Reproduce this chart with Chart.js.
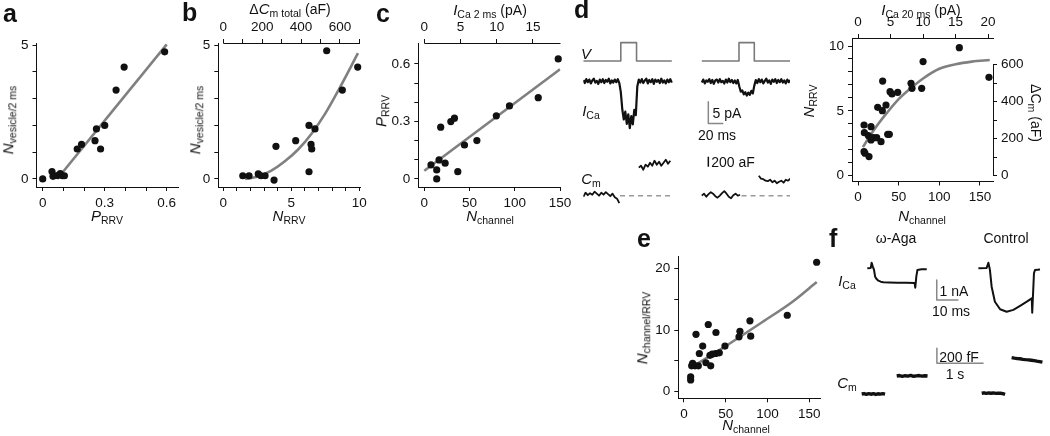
<!DOCTYPE html>
<html><head><meta charset="utf-8">
<script src="https://cdn.jsdelivr.net/npm/chart.js@4"></script>
<style>
html,body{margin:0;padding:0;background:#fff;}
#wrap{position:relative;width:1050px;height:436px;overflow:hidden;font-family:'Liberation Sans',Arial,sans-serif;color:#111;}
canvas{position:absolute;left:0;top:0;}
.t{position:absolute;white-space:nowrap;line-height:1;transform:translate(-50%,-50%);font-size:14px;z-index:5;}
.t.r{transform:translate(-50%,-50%) rotate(-90deg);}
.t.rr{transform:translate(-50%,-50%) rotate(90deg);}
.t i{font-style:italic;font-size:15px;}
.t sub{font-size:10.5px;vertical-align:-3px;font-style:normal;line-height:1;}
.lab{position:absolute;font-weight:bold;font-size:25px;line-height:1;z-index:5;}
</style></head>
<body><div id="wrap"></div>
<script>
// ---------------- DATA ----------------
// panel a: P_RRV vs N_vesicle/2ms
const aX = [0, 0.045, 0.05, 0.07, 0.085, 0.095, 0.105, 0.167, 0.188, 0.253, 0.26, 0.28, 0.30, 0.355, 0.394, 0.59];
const aY = [0, 0.28, 0.10, 0.13, 0.20, 0.12, 0.12, 1.12, 1.29, 1.43, 1.87, 1.12, 2.0, 3.32, 4.18, 4.75];
const aFitX = [0.07, 0.6];
const aFitY = [0, 5.03];
// panel b: N_RRV vs N_vesicle/2ms
const bX = [1.43, 1.89, 2.57, 2.77, 3.07, 3.73, 3.87, 5.32, 6.3, 6.3, 6.45, 6.5, 6.74, 7.6, 8.75, 9.88];
const bY = [0.12, 0.12, 0.19, 0.12, 0.12, -0.04, 1.22, 1.43, 2.0, 0.27, 1.29, 1.12, 1.87, 4.79, 3.32, 4.18];
const bFitX = [1.6, 2.5, 3.5, 4.5, 5.5, 6.5, 7.5, 8.5, 9.9];
const bFitY = [0, 0.08, 0.3, 0.65, 1.1, 1.7, 2.45, 3.35, 4.7];
// panel c: N_channel vs P_RRV
const cX = [148, 125.9, 94.1, 79.6, 58.1, 44.4, 37, 33.3, 29.3, 18.1, 23, 16.3, 13.7, 13.7, 7.4];
const cY = [0.626, 0.424, 0.381, 0.329, 0.2, 0.177, 0.038, 0.317, 0.299, 0.27, 0.082, 0.099, 0.047, 0, 0.073];
const cFitX = [0, 150];
const cFitY = [0.043, 0.572];
// panel d scatter: N_channel vs N_RRV
const dN = [124.6, 161, 80, 65.2, 66.4, 78.3, 30.3, 39.4, 41.8, 48.8, 34.4, 24.2, 29.9, 7.4, 7.8, 16, 12.7, 18.9, 23, 16, 28.3, 36.5, 38.5, 7.4, 8.6, 13.5];
const dR = [9.87, 7.59, 8.8, 7.12, 6.74, 6.74, 7.3, 6.48, 6.3, 6.43, 5.45, 5.27, 5.01, 3.91, 3.32, 3.78, 3.09, 2.93, 2.93, 2.75, 2.62, 3.19, 3.19, 1.85, 1.73, 1.47];
const dFitN = [6, 15, 25, 35, 50, 65, 80, 100, 120, 140, 162];
const dFitR = [2.2, 3.1, 4.0, 4.8, 5.9, 6.75, 7.5, 8.25, 8.6, 8.8, 8.92];
// panel e: N_channel vs N_channel/RRV
const eN = [158.9, 123.7, 79, 79.9, 67, 65.9, 49.1, 42.3, 37.9, 38.3, 29.1, 33.9, 31.1, 32, 26.3, 22.4, 18.4, 14.4, 17.2, 13.2, 10.4, 9.2, 8, 8];
const eY = [21, 12.4, 11.5, 9.0, 9.8, 8.9, 7.4, 6.3, 6.2, 9.6, 10.9, 6.1, 5.9, 4.2, 4.7, 7.4, 6.2, 9.3, 4.2, 4.2, 4.6, 4.2, 2.4, 1.9];
const eFitN = [13, 50, 95, 130, 159];
const eFitY = [4.3, 7.4, 11.4, 14.6, 17.8];

// panel d traces (time in ms, current in pA, capacitance in aF)
const vStepT1 = [0, 50, 50, 71, 71, 118];
const vStepT2 = [158, 207.6, 207.6, 228, 228, 276];
const vStepV  = [0, 0, 1, 1, 0, 0];
const icaLeft = {t0: 0, dt: 2, v: [0.3,-0.4,0.5,-0.2,0.4,-0.5,0.2,0.6,-0.3,0.1,-0.6,0.4,-0.2,0.5,-0.4,0.3,-0.1,0.6,-0.5,0.2,-0.3,0.4,-0.2,0.5,-0.4,
  -2.5,-6.5,-8.8,-7.0,-9.8,-7.6,-10.8,-8.0,-9.9,-6.6,-7.8,-1.2,
  0.4,-0.3,0.5,-0.4,0.2,0.6,-0.5,0.3,-0.2,0.5,-0.6,0.4,-0.1,0.3,-0.4,0.6,-0.3,0.2,-0.5,0.4,-0.2,0.5,-0.3]};
const icaRight = {t0: 158, dt: 2, v: [-0.3,0.4,-0.5,0.2,-0.1,0.5,-0.4,0.3,-0.6,0.2,0.4,-0.3,0.5,-0.2,0.1,-0.5,0.4,-0.3,0.6,-0.2,0.3,-0.4,0.2,-0.5,0.3,
  -1.2,-2.4,-2.1,-3.0,-2.5,-3.3,-2.6,-3.1,-2.2,-2.8,-1.0,
  0.3,-0.4,0.5,-0.2,0.4,-0.5,0.1,0.6,-0.3,0.2,-0.6,0.4,-0.1,0.5,-0.4,0.3,-0.2,0.5,-0.3,0.2,-0.5,0.4,-0.2,0.3]};
const cmLeftPre  = {t0: 0,   dt: 3, v: [-20,60,10,50,20,80,40,0,60,20,70,30,-10,40,-30,-60,-150]};
const cmLeftPost = {t0: 74,  dt: 3, v: [560,600,520,620,580,660,600,700,620,680,600,660,720,640,700]};
const cmRightPre = {t0: 158, dt: 3, v: [0,40,-20,30,70,40,-10,-40,0,50,90,40,-20,-50,10,40,0,20]};
const cmRightPost= {t0: 234, dt: 3, v: [400,340,330,300,290,320,270,300,250,280,300,260,320,300,340]};
const cmDashT1 = [49, 117], cmDashT2 = [211, 276], cmDashV = [0, 0];
const dBarIT = [166.7, 166.7, 186.7], dBarIV = [-4.7, -9.7, -9.7];   // 5 pA / 20 ms
const dBarCT = [166.7, 166.7], dBarCV = [580, 780];                  // 200 aF

// panel f traces (ms / nA ; s / fF)
const fAgaT = [0,1.6,2.0,2.5,3.1,3.6,4.3,5.1,6.2,7.4,10,14,18,21.8,22.1,22.6,23.1,25,27.4];
const fAgaI = [0,0.02,0.28,0.1,-0.08,-0.42,-0.54,-0.62,-0.67,-0.7,-0.71,-0.72,-0.72,-0.73,-0.97,-0.4,-0.08,-0.05,-0.05];
const fCtlT = [51.2,55.0,55.8,56.5,57.3,58.8,61.2,64.2,67.3,70.4,73.5,75.8,76.0,76.8,77.3,79.6];
const fCtlI = [0,0.02,0.28,-0.08,-0.92,-1.67,-2.05,-2.17,-2.08,-1.88,-1.67,-1.5,-2.22,-0.25,-0.08,-0.06];
const fCmAgaPre  = {t0: 0,    dt: 0.05, v: [0,6,-4,5,-3,4,-6,3,-2,5,-1]};
const fCmAgaPost = {t0: 0.75, dt: 0.06, v: [240,246,236,244,238,248,236,242,246,238,244,240]};
const fCmCtlPre  = {t0: 2.57, dt: 0.05, v: [10,16,8,14,10,14,8,12,10,4,-6]};
const fCmCtlPost = {t0: 3.21, dt: 0.06, v: [485,478,472,470,462,458,455,450,445,438,432,425]};
const fBarIT = [32, 32, 42], fBarIV = [-0.585, -1.585, -1.585];     // 1 nA / 10 ms
const fBarCT = [1.61, 1.61, 2.61], fBarCV = [609, 409, 409];        // 200 fF / 1 s

// tick values and labels
const aXT = [0,0.1,0.2,0.3,0.4,0.5,0.6], aXL = [0,0.3,0.6];
const nvT = [0,1,2,3,4,5], nvL = [0,5];
const bXT = [0,1,2,3,4,5,6,7,8,9,10], bXL = [0,5,10];
const bTopT = [0,100,200,300,400,500,600,700], bTopL = [0,200,400,600];
const chT = [0,50,100,150], chL = [0,50,100,150];
const cYT = [0,0.1,0.2,0.3,0.4,0.5,0.6], cYL = [0,0.3,0.6];
const cTopT = [0,5,10,15], cTopL = [0,5,10,15];
const dYT = [0,1,2,3,4,5,6,7,8,9,10], dYL = [0,5,10];
const dY2T = [0,100,200,300,400,500,600], dY2L = [0,200,400,600];
const dTopT = [0,5,10,15,20], dTopL = [0,5,10,15,20];
const eYT = [0,5,10,15,20], eYL = [0,10,20];

// ---------------- RENDER ----------------
Chart.defaults.font.family = "'Liberation Sans', Arial, sans-serif";
Chart.defaults.font.size = 13.5;
Chart.defaults.color = '#111';
Chart.defaults.animation = false;
Chart.defaults.plugins.legend.display = false;
Chart.defaults.plugins.tooltip.enabled = false;

const wrap = document.getElementById('wrap');
function mk(){ const c=document.createElement('canvas'); c.width=1050; c.height=436; c.style.width='1050px'; c.style.height='436px'; wrap.appendChild(c); return c; }
const xy = (xs, ys) => xs.map((x,i)=>({x, y: ys[i]}));
const ser = s => s.v.map((v,i)=>({x: s.t0 + i*s.dt, y: v}));

function ax(pos, min, max, ticks, labels, partial){
  const horiz = pos==='top'||pos==='bottom';
  return {
    type:'linear', position:pos, min, max, bounds:'data',
    grid:{drawOnChartArea:false, drawTicks:true, tickLength:4, color:'#111', lineWidth:1},
    border:{display:!partial, color:'#111', width:1},
    ticks:{padding:4, autoSkip:false, maxRotation:0, minRotation:0, color:'#111', font:{size:13.5},
      callback:v => labels.indexOf(v)>=0 ? String(v) : ''},
    afterBuildTicks:s => { s.ticks = ticks.map(v=>({value:v})); },
    afterFit:s => { if(horiz) s.height=30; else s.width=30; }
  };
}
function partialPlugin(ranges){
  return {id:'partialBorder', afterDraw(chart){
    const ctx = chart.ctx;
    for (const id in ranges){
      const s = chart.scales[id], r = ranges[id];
      ctx.save(); ctx.strokeStyle='#111'; ctx.lineWidth=1; ctx.beginPath();
      if (s.isHorizontal()){
        const y = Math.round(s.position==='top' ? s.bottom : s.top) + 0.5;
        ctx.moveTo(s.getPixelForValue(r[0]), y); ctx.lineTo(s.getPixelForValue(r[1]), y);
      } else {
        const x = Math.round(s.position==='left' ? s.right : s.left) + 0.5;
        ctx.moveTo(x, s.getPixelForValue(r[0])); ctx.lineTo(x, s.getPixelForValue(r[1]));
      }
      ctx.stroke(); ctx.restore();
    }
  }};
}
const ptsDS = d => ({data:d, showLine:false, pointRadius:3.6, pointBackgroundColor:'#111', pointBorderWidth:0, order:1, clip:8});
const fitDS = d => ({data:d, showLine:true, pointRadius:0, borderColor:'#808080', borderWidth:2.6, cubicInterpolationMode:'monotone', order:2});

function scatterPanel(o){
  new Chart(mk(), {type:'scatter', data:{datasets:o.datasets}, options:{
    responsive:false, animation:false, devicePixelRatio:1, events:[],
    layout:{padding:{left:o.L-30, right:1050-o.R-(o.right?30:0), top:o.T-(o.top?30:0), bottom:436-o.B-30}},
    scales:o.scales
  }, plugins: o.partial ? [partialPlugin(o.partial)] : []});
}
function hid(min,max){ return {type:'linear', display:false, min, max}; }
const lineDS = (d, xA, yA, color, w, dash) => ({data:d, xAxisID:xA, yAxisID:yA, showLine:true, pointRadius:0, borderColor:color, borderWidth:w, borderDash:dash||[], tension:0, borderJoinStyle:'round', borderCapStyle:'butt'});
function tracePanel(o){
  new Chart(mk(), {type:'scatter', data:{datasets:o.datasets}, options:{
    responsive:false, animation:false, devicePixelRatio:1, events:[],
    layout:{padding:{left:o.L, right:1050-o.R, top:o.T, bottom:436-o.B}},
    scales:o.scales
  }});
}

// panel a
scatterPanel({L:36.5, R:178, T:43, B:187,
  scales:{x:ax('bottom',-0.03,0.6546,aXT,aXL), y:ax('left',-0.3,5.08,nvT,nvL)},
  datasets:[ptsDS(xy(aX,aY)), fitDS(xy(aFitX,aFitY))]});
// panel b
scatterPanel({L:218.3, R:360, T:43, B:187, top:true,
  scales:{x:ax('bottom',-0.37,10.05,bXT,bXL), x2:ax('top',-25.9,703.5,bTopT,bTopL,true), y:ax('left',-0.3,5.08,nvT,nvL)},
  partial:{x2:[0,703.5]},
  datasets:[ptsDS(xy(bX,bY)), fitDS(xy(bFitX,bFitY))]});
// panel c
scatterPanel({L:418.3, R:560.5, T:43, B:187, top:true,
  scales:{x:ax('bottom',-6.63,150.5,chT,chL), x2:ax('top',-0.829,18.81,cTopT,cTopL,true), y:ax('left',-0.042,0.709,cYT,cYL)},
  partial:{x2:[0,18.81]},
  datasets:[ptsDS(xy(cX,cY)), fitDS(xy(cFitX,cFitY))]});
// panel d scatter
scatterPanel({L:852, R:993, T:38, B:181.5, top:true, right:true,
  scales:{x:ax('bottom',-7.4,166,chT,chL), x2:ax('top',-0.925,20.75,dTopT,dTopL), y:ax('left',-0.45,10.62,dYT,dYL), y2:ax('right',-31.5,743.4,dY2T,dY2L,true)},
  partial:{y2:[0,600]},
  datasets:[ptsDS(xy(dN,dR)), fitDS(xy(dFitN,dFitR))]});
// panel e
scatterPanel({L:678.3, R:820, T:256.7, B:398.3,
  scales:{x:ax('bottom',-6.8,162.9,chT,chL), y:ax('left',-1.07,21.9,eYT,eYL)},
  datasets:[ptsDS(xy(eN,eY)), fitDS(xy(eFitN,eFitY))]});

// panel d traces
tracePanel({L:583.3, R:790, T:30, B:210,
  scales:{x:hid(0,275.6), yV:hid(-8.14,1.69), yI:hid(-29.65,11.82), yC:hid(-286,3314)},
  datasets:[
    lineDS(xy(vStepT1,vStepV),'x','yV','#7a7a7a',1.6),
    lineDS(xy(vStepT2,vStepV),'x','yV','#7a7a7a',1.6),
    lineDS(ser(icaLeft),'x','yI','#111',2.2),
    lineDS(ser(icaRight),'x','yI','#111',2.2),
    lineDS(xy(cmDashT1,cmDashV),'x','yC','#999',1.5,[5,4]),
    lineDS(xy(cmDashT2,cmDashV),'x','yC','#999',1.5,[5,4]),
    lineDS(ser(cmLeftPre),'x','yC','#111',1.8),
    lineDS(ser(cmLeftPost),'x','yC','#111',1.8),
    lineDS(ser(cmRightPre),'x','yC','#111',1.8),
    lineDS(ser(cmRightPost),'x','yC','#111',1.8),
    lineDS(xy(dBarIT,dBarIV),'x','yI','#888',1.5),
    lineDS(xy(dBarCT,dBarCV),'x','yC','#111',1.5)
  ]});
// panel f traces
tracePanel({L:855, R:1050, T:250, B:410,
  scales:{xI:hid(-5.67,84.19), xC:hid(-0.1435,4.032), yI:hid(-7.085,0.915), yC:hid(-213.3,1920)},
  datasets:[
    lineDS(xy(fAgaT,fAgaI),'xI','yI','#111',2),
    lineDS(xy(fCtlT,fCtlI),'xI','yI','#111',2),
    lineDS(xy(fBarIT,fBarIV),'xI','yI','#888',1.5),
    lineDS(ser(fCmAgaPre),'xC','yC','#111',3.4),
    lineDS(ser(fCmAgaPost),'xC','yC','#111',3.4),
    lineDS(ser(fCmCtlPre),'xC','yC','#111',3.4),
    lineDS(ser(fCmCtlPost),'xC','yC','#111',3.4),
    lineDS(xy(fBarCT,fBarCV),'xC','yC','#888',1.5)
  ]});

// ---------------- TEXT ----------------
function txt(html, x, y, cls, size){
  const d=document.createElement('div'); d.className='t'+(cls?' '+cls:''); d.innerHTML=html;
  d.style.left=x+'px'; d.style.top=y+'px'; if(size) d.style.fontSize=size+'px'; wrap.appendChild(d);
}
function lab(s, x, y){ const d=document.createElement('div'); d.className='lab'; d.textContent=s; d.style.left=x+'px'; d.style.top=y+'px'; wrap.appendChild(d); }
lab('a',3,1); lab('b',182,0); lab('c',376,1); lab('d',574,-3); lab('e',637,226); lab('f',829,226);
// a
txt('<i>N</i><sub>vesicle/2 ms</sub>', 9, 120, 'r');
txt('<i>P</i><sub>RRV</sub>', 107, 217);
// b
txt('<i>N</i><sub>vesicle/2 ms</sub>', 196, 120, 'r');
txt('<i>N</i><sub>RRV</sub>', 289, 217);
txt('Δ<i>C</i><sub>m total</sub> (aF)', 290, 10);
// c
txt('<i>P</i><sub>RRV</sub>', 382, 111, 'r');
txt('<i>N</i><sub>channel</sub>', 490, 217);
txt('<i>I</i><sub>Ca 2 ms</sub> (pA)', 490, 11);
// d traces
txt('<i>V</i>', 586, 53);
txt('<i>I</i><sub>Ca</sub>', 591, 112);
txt('<i>C</i><sub>m</sub>', 591, 180);
txt('5 pA', 727, 113);
txt('20 ms', 717, 135);
txt('200 aF', 733, 162);
// d scatter
txt('<i>I</i><sub>Ca 20 ms</sub> (pA)', 921, 11);
txt('<i>N</i><sub>RRV</sub>', 810, 101, 'r');
txt('ΔC<sub>m</sub> (aF)', 1035, 113, 'rr');
txt('<i>N</i><sub>channel</sub>', 922, 217);
// e
txt('<i>N</i><sub>channel/RRV</sub>', 643, 328, 'r');
txt('<i>N</i><sub>channel</sub>', 746, 426);
// f
txt('ω-Aga', 896, 238);
txt('Control', 1006, 238);
txt('<i>I</i><sub>Ca</sub>', 847, 282);
txt('<i>C</i><sub>m</sub>', 847, 384);
txt('1 nA', 954, 291);
txt('10 ms', 951, 311);
txt('200 fF', 959, 357);
txt('1 s', 955, 374);
</script></body></html>
